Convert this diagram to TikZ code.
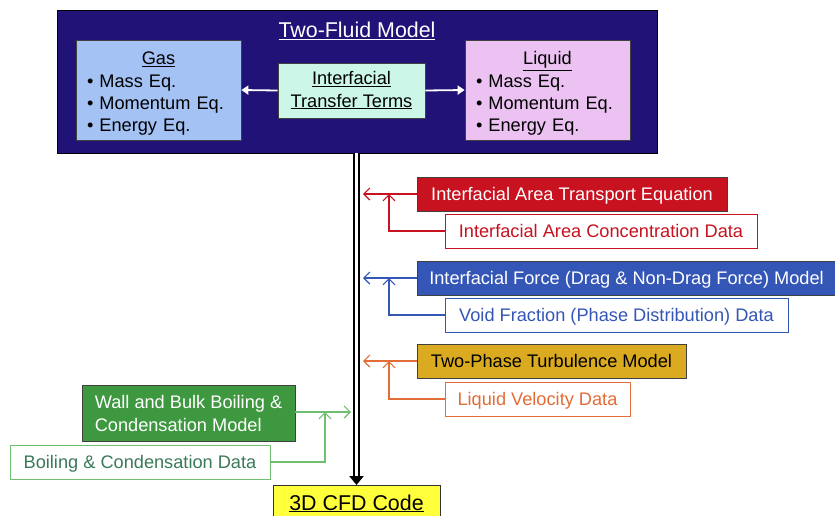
\documentclass[tikz,border=0pt]{standalone}
\usepackage{fontspec}
\setmainfont{Liberation Sans}
\usetikzlibrary{arrows.meta}
\definecolor{navy}{RGB}{33,18,120}
\definecolor{gasblue}{RGB}{164,194,244}
\definecolor{mint}{RGB}{204,246,232}
\definecolor{pinkl}{RGB}{236,194,242}
\definecolor{iared}{RGB}{200,18,32}
\definecolor{ifblue}{RGB}{52,86,182}
\definecolor{gold}{RGB}{218,170,32}
\definecolor{orng}{RGB}{228,108,54}
\definecolor{grn}{RGB}{62,152,64}
\definecolor{grnl}{RGB}{112,190,112}
\definecolor{grntxt}{RGB}{58,122,88}
\definecolor{cfdyellow}{RGB}{255,255,60}
\tikzset{
  bodyfont/.style={font=\fontsize{18.2}{22.2}\selectfont},
  phase/.style={draw=black!75, line width=0.8pt, bodyfont, inner xsep=11pt, inner ysep=0pt,
    text width=143pt, minimum height=100pt, align=left},
  mid/.style={draw=black!75, line width=0.8pt, bodyfont, inner sep=0pt,
    minimum width=147pt, minimum height=55pt, align=center},
  solidbox/.style={draw=black!75, line width=0.8pt, bodyfont, inner sep=0pt, minimum height=34pt, text=white,
    text height=13pt, text depth=0pt},
  databox/.style={fill=white, line width=1pt, bodyfont, inner sep=0pt, minimum height=34pt,
    text height=13pt, text depth=0pt},
  wharrow/.style={draw=white, line width=1.8pt, -{Triangle[length=7pt,width=9pt]}},
  barb/.style={line width=1.2pt, -{Straight Barb[length=6pt,width=12pt]}},
  spine/.style={draw=black, line width=2.8pt, double=white, double distance=2.2pt,
    -{Triangle[length=9pt,width=14pt]}}
}
\begin{document}
\begin{tikzpicture}[x=1pt,y=-1pt]
\clip (0,0) rectangle (835,515);
\fill[white] (0,0) rectangle (835,515);

% Two-fluid model
\node[draw=black, fill=navy, line width=0.8pt, minimum width=600pt, minimum height=143pt, inner sep=0pt] (tfm) at (357,81.5) {};
\node[text=white, font=\fontsize{21.4}{25}\selectfont, inner sep=0pt] (title) at (357,31) {\underline{Two-Fluid Model}};
\node[phase, fill=gasblue] (gas) at (158.5,90) {{\centering\rule{0pt}{20pt}\underline{Gas}\par}• Mass Eq.\par • Momentum Eq.\par • Energy Eq.};
\node[mid, fill=mint] (itt) at (351.5,90.5) {\underline{Interfacial}\\\underline{Transfer Terms}};
\node[phase, fill=pinkl] (liq) at (547.5,90) {{\centering\rule{0pt}{20pt}\underline{Liquid}\par}• Mass Eq.\par • Momentum Eq.\par • Energy Eq.};
\draw[wharrow] (itt.west) -- (gas.east);
\draw[wharrow] (itt.east) -- (liq.west);

% CFD code
\node[draw=black!80, fill=cfdyellow, line width=0.8pt, anchor=north, minimum width=167pt, minimum height=36pt,
  inner sep=0pt, font=\fontsize{21.4}{25}\selectfont] (cfd) at (356.5,485) {\underline{3D CFD Code}};
\draw[spine] (tfm.south -| cfd.north) -- (cfd.north);

% Interfacial area
\node[solidbox, fill=iared, minimum width=310pt] (iate) at (572,194) {Interfacial Area Transport Equation};
\node[databox, draw=iared, text=iared, minimum width=312pt] (iacd) at (601,231) {Interfacial Area Concentration Data};
\coordinate (s1) at (363,194);
\coordinate (j1) at (389,194);
\draw[barb, iared] (iate.west) -- (s1);
\draw[barb, iared] (iacd.west) -| (j1);

% Interfacial force
\node[solidbox, fill=ifblue, minimum width=419pt] (ifm) at (626.5,278) {Interfacial Force (Drag \& Non-Drag Force) Model};
\node[databox, draw=ifblue, text=ifblue, minimum width=343pt] (vfd) at (616.5,315) {Void Fraction (Phase Distribution) Data};
\coordinate (s2) at (363,278);
\coordinate (j2) at (389,278);
\draw[barb, ifblue] (ifm.west) -- (s2);
\draw[barb, ifblue] (vfd.west) -| (j2);

% Turbulence
\node[solidbox, fill=gold, text=black, minimum width=269pt] (tpt) at (551.5,361) {Two-Phase Turbulence Model};
\node[databox, draw=orng, text=orng, minimum width=185pt] (lvd) at (537.5,399) {Liquid Velocity Data};
\coordinate (s3) at (363,361);
\coordinate (j3) at (389,361);
\draw[barb, orng] (tpt.west) -- (s3);
\draw[barb, orng] (lvd.west) -| (j3);

% Boiling
\node[draw=black!75, line width=0.8pt, inner sep=0pt, text=white, fill=grn, minimum width=213pt, minimum height=56pt,
  align=left, font=\fontsize{18.2}{23}\selectfont] (wbb) at (188.5,413.5) {Wall and Bulk Boiling \&\\Condensation Model};
\node[databox, draw=grnl, text=grntxt, minimum width=260pt] (bcd) at (140,462) {Boiling \& Condensation Data};
\coordinate (s4) at (351,412);
\coordinate (j4) at (325,412);
\draw[barb, grnl] (wbb.east |- s4) -- (s4);
\draw[barb, grnl] (bcd.east) -| (j4);
\end{tikzpicture}
\end{document}
